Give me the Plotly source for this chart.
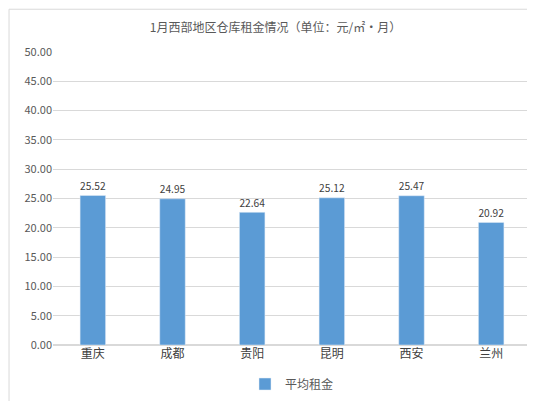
import plotly.graph_objects as go

categories = ["重庆", "成都", "贵阳", "昆明", "西安", "兰州"]
values = [25.52, 24.95, 22.64, 25.12, 25.47, 20.92]
ticks = [i * 5 for i in range(11)]

fig = go.Figure(go.Bar(
    x=categories, y=values, name="平均租金", marker_color="#5B9BD5",
    width=0.32, text=[f"{v:.2f}" for v in values], textposition="outside",
    textfont=dict(size=11, color="#404040"), cliponaxis=False))
fig.update_layout(
    width=535, height=401, paper_bgcolor="white", plot_bgcolor="white",
    font=dict(family="Noto Sans CJK SC", color="#595959", size=11),
    title=dict(text="1月西部地区仓库租金情况（单位：元/㎡·月）", x=0.5, y=0.96,
               font=dict(size=12, color="#595959")),
    margin=dict(l=45, r=12, t=44, b=63),
    showlegend=True,
    legend=dict(orientation="h", x=0.5, xanchor="center", y=-0.08, font=dict(size=12)),
    yaxis=dict(range=[0, 50], tickvals=ticks, ticktext=[f"{t:.2f}" for t in ticks],
               gridcolor="#D9D9D9", zeroline=True, zerolinecolor="#D9D9D9",
               tickfont=dict(size=11)),
    xaxis=dict(tickfont=dict(size=12, color="#404040")),
    bargap=0.6,
    shapes=[dict(type="rect", xref="paper", yref="paper", x0=-0.092, x1=1.022,
                 y0=-0.211, y1=1.146, line=dict(color="#D9D9D9", width=1))],
)
fig.write_html("out.html")
